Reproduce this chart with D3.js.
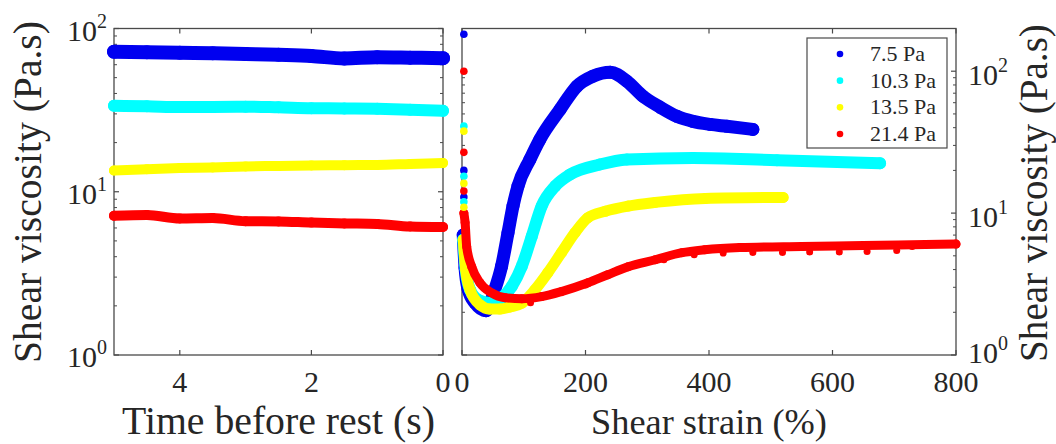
<!DOCTYPE html>
<html><head><meta charset="utf-8">
<script src="https://cdn.jsdelivr.net/npm/d3@7"></script>
<style>body{margin:0;background:#fff}svg{display:block}svg text{font-family:"Liberation Serif","Times New Roman",serif}</style>
</head><body>
<svg id="c" width="1056" height="444"></svg>
<script>
// ---------------- data ----------------
// Left panel: viscosity vs time before rest
const restTime   = [5, 4.5, 4, 3.5, 3, 2.5, 2, 1.5, 1, 0.5, 0];
const restBlue   = [72, 71.5, 71, 70.5, 69.8, 69, 67.9, 65.5, 66.7, 66.3, 65.8];
const restCyan   = [33.6, 33.4, 33.0, 33.1, 33.2, 32.9, 32.5, 32.4, 32.2, 31.8, 31.3];
const restYellow = [13.5, 13.75, 13.96, 14.1, 14.3, 14.4, 14.5, 14.55, 14.6, 14.8, 15.0];
const restRed    = [7.13, 7.2, 6.85, 6.9, 6.6, 6.58, 6.47, 6.4, 6.35, 6.12, 6.08];

// Right panel: viscosity vs shear strain
const blueStrain = [2, 5, 10, 21, 39, 53, 64, 74.5, 82.6, 90.7, 110, 126, 159, 186, 212, 240, 267, 293, 321, 348, 374, 402, 429, 471];
const blueVisc   = [7.0, 4.1, 2.9, 2.33, 2.05, 2.88, 4.21, 7.28, 11.2, 15.5, 23.9, 33, 53.9, 78.3, 92.2, 98.4, 85, 66.6, 55.7, 48.1, 44.3, 42.2, 40.9, 38.9];
const cyanStrain = [2, 6, 13, 26, 45, 64, 80.5, 96.7, 113, 129, 151, 175, 223, 267, 374, 510, 677];
const cyanVisc   = [6.5, 4.0, 2.88, 2.45, 2.33, 2.52, 3.04, 4.21, 6.86, 11.2, 15.5, 18.7, 22.0, 23.9, 24.5, 23.6, 22.5];
const yellowStrain = [2, 6, 13, 29, 45, 61.5, 78, 97, 118, 139, 161, 183, 204, 232, 269, 313, 394, 520];
const yellowVisc   = [6.5, 4.0, 2.88, 2.26, 2.11, 2.11, 2.18, 2.32, 2.88, 3.80, 5.26, 7.28, 9.29, 10.3, 11.2, 11.9, 12.7, 12.9];
const redStrain = [3, 5, 7.6, 15.7, 29, 48, 70, 97, 129, 161, 204, 236, 269, 313, 356, 393, 450, 550, 650, 750, 800];
const redVisc   = [10, 8.6, 5.8, 4.2, 3.23, 2.74, 2.53, 2.49, 2.58, 2.80, 3.23, 3.68, 4.19, 4.69, 5.26, 5.52, 5.72, 5.82, 5.9, 6.0, 6.05];

// isolated early points at the very start of the strain sweep
const startStrain = 3;
const blueStart   = [182, 20, 13];
const cyanStart   = [41, 18.2, 12];
const yellowStart = [37.8, 16.2, 11];
const redStart    = [100, 26.8, 14.3];

// occasional red points just under the red band
const redDipStrain = [111, 200, 271, 327, 376, 423, 471, 519, 563, 611, 656, 704, 729, 768];
const redDipVisc   = [2.33, 3.12, 4.21, 4.69, 5.09, 5.23, 5.28, 5.28, 5.32, 5.32, 5.37, 5.46, 5.82, 6.0];

const legendLabels = ["7.5 Pa", "10.3 Pa", "13.5 Pa", "21.4 Pa"];
const timeTicks   = [4, 2, 0];
const strainTicks = [0, 200, 400, 600, 800];
const decadeTicks = [1, 10, 100];
const decadeExp   = ["0", "1", "2"];

// ---------------- styles ----------------
const COLORS = ["#0000f0", "#00ffff", "#ffff00", "#ff0000"];
const TXT = "#262626";
const AX = "#4a4a4a";

const svg = d3.select("#c");

const xL = d3.scaleLinear().domain([5, 0]).range([114, 443]);
const yL = d3.scaleLog().domain([1, 100]).range([355, 28.5]);
const xR = d3.scaleLinear().domain([0, 800]).range([462, 956]);
const yR = d3.scaleLog().domain([1, 200]).range([355, 28.5]);

function minorTicks(lo, hi) {
  const out = [];
  for (let d = 1; d < hi; d *= 10)
    for (let m = 2; m <= 9; m++) { const v = m * d; if (v > lo && v < hi) out.push(v); }
  return out;
}

function frame(x, y, xticks, leftLabels) {
  const g = svg.append("g");
  const [x0, x1] = d3.extent(x.range());
  const [y1, y0] = [y.range()[0], y.range()[1]];
  xticks.forEach(t => {
    g.append("line").attr("x1", x(t)).attr("x2", x(t)).attr("y1", y1).attr("y2", y1 - 5).attr("stroke", AX).attr("stroke-width", 1.2);
    g.append("line").attr("x1", x(t)).attr("x2", x(t)).attr("y1", y0).attr("y2", y0 + 5).attr("stroke", AX).attr("stroke-width", 1.2);
  });
  const dom = y.domain();
  decadeTicks.filter(v => v >= dom[0] && v <= dom[1]).forEach(v => {
    g.append("line").attr("x1", x0).attr("x2", x0 + 5).attr("y1", y(v)).attr("y2", y(v)).attr("stroke", AX).attr("stroke-width", 1.2);
    g.append("line").attr("x1", x1).attr("x2", x1 - 5).attr("y1", y(v)).attr("y2", y(v)).attr("stroke", AX).attr("stroke-width", 1.2);
  });
  minorTicks(dom[0], dom[1]).forEach(v => {
    g.append("line").attr("x1", x0).attr("x2", x0 + 3).attr("y1", y(v)).attr("y2", y(v)).attr("stroke", AX).attr("stroke-width", 1);
    g.append("line").attr("x1", x1).attr("x2", x1 - 3).attr("y1", y(v)).attr("y2", y(v)).attr("stroke", AX).attr("stroke-width", 1);
  });
  g.append("rect").attr("x", x0).attr("y", y0).attr("width", x1 - x0).attr("height", y1 - y0)
    .attr("fill", "none").attr("stroke", AX).attr("stroke-width", 1.3);
  xticks.forEach(t => {
    g.append("text").attr("x", x(t)).attr("y", 392).attr("text-anchor", "middle")
      .attr("font-size", 30).attr("fill", TXT).text(t);
  });
  decadeTicks.forEach((v, i) => {
    if (v < dom[0] || v > dom[1]) return;
    const t = g.append("text").attr("font-size", 30).attr("fill", TXT);
    if (leftLabels) t.attr("x", x0 - 7).attr("y", y(v) + 12).attr("text-anchor", "end");
    else t.attr("x", x1 + 12).attr("y", y(v) + (v === 1 ? 8 : 14)).attr("text-anchor", "start");
    t.append("tspan").text("10");
    t.append("tspan").attr("dy", -13).attr("font-size", 20).text(decadeExp[i]);
  });
  return g;
}

frame(xL, yL, timeTicks, true);
frame(xR, yR, strainTicks, false);

function band(xs, ys, x, y, color, width) {
  const pts = xs.map((v, i) => [x(v), y(ys[i])]);
  const line = d3.line().curve(d3.curveMonotoneX);
  svg.append("path").attr("d", line(pts)).attr("fill", "none").attr("stroke", color)
    .attr("stroke-width", width).attr("stroke-linecap", "round").attr("stroke-linejoin", "round");
  svg.append("g").selectAll("circle").data(pts).join("circle")
    .attr("cx", d => d[0]).attr("cy", d => d[1]).attr("r", width / 2).attr("fill", color);
}

band(restTime, restBlue, xL, yL, COLORS[0], 14);
band(restTime, restCyan, xL, yL, COLORS[1], 12);
band(restTime, restYellow, xL, yL, COLORS[2], 10);
band(restTime, restRed, xL, yL, COLORS[3], 10);

band(blueStrain, blueVisc, xR, yR, COLORS[0], 13);
band(cyanStrain, cyanVisc, xR, yR, COLORS[1], 12);
band(yellowStrain, yellowVisc, xR, yR, COLORS[2], 11);
band(redStrain, redVisc, xR, yR, COLORS[3], 9);

svg.append("g").selectAll("circle").data(redDipStrain.map((s, i) => [s, redDipVisc[i]])).join("circle")
  .attr("cx", d => xR(d[0])).attr("cy", d => yR(d[1])).attr("r", 3.5).attr("fill", COLORS[3]);

[[blueStart, 0], [cyanStart, 1], [yellowStart, 2], [redStart, 3]].forEach(([arr, ci]) => {
  svg.append("g").selectAll("circle").data(arr).join("circle")
    .attr("cx", xR(startStrain)).attr("cy", d => yR(d)).attr("r", 3.8).attr("fill", COLORS[ci]);
});

function fit(sel, target) {
  const w = sel.node().getComputedTextLength();
  sel.attr("font-size", parseFloat(sel.attr("font-size")) * target / w);
}
const lab = (x, y, txt, rot) => svg.append("text").attr("x", x).attr("y", y).attr("text-anchor", "middle")
  .attr("font-size", 36).attr("fill", TXT)
  .attr("transform", rot ? `rotate(-90,${x},${y})` : null).text(txt);

fit(lab(278.5, 434, "Time before rest (s)", false), 313);
fit(lab(709, 434, "Shear strain (%)", false), 236);
fit(lab(41, 192, "Shear viscosity (Pa.s)", true), 342);
fit(lab(1047, 193, "Shear viscosity (Pa.s)", true), 338);

const lg = svg.append("g");
lg.append("rect").attr("x", 807).attr("y", 38).attr("width", 140).attr("height", 110)
  .attr("fill", "#fff").attr("stroke", AX).attr("stroke-width", 1.2);
const rowY = d3.scalePoint().domain(legendLabels).range([54, 134]);
legendLabels.forEach((l, i) => {
  lg.append("circle").attr("cx", 840).attr("cy", rowY(l)).attr("r", 3.3).attr("fill", COLORS[i]);
  lg.append("text").attr("x", 870).attr("y", rowY(l) + 7)
    .attr("font-size", 22).attr("fill", TXT).text(l);
});
</script>
</body></html>
